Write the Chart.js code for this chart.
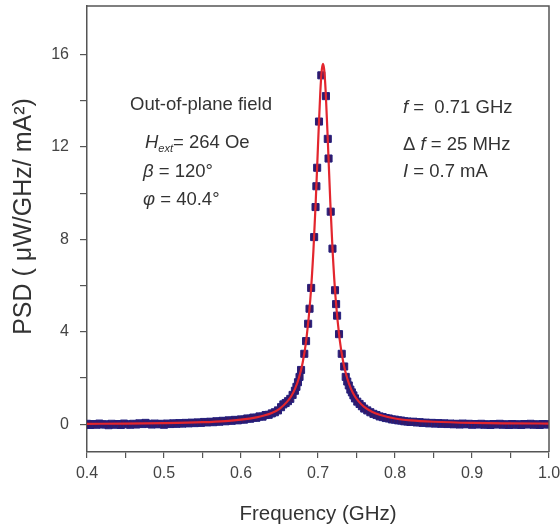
<!DOCTYPE html>
<html><head><meta charset="utf-8">
<script src="https://cdn.jsdelivr.net/npm/chart.js@4/dist/chart.umd.min.js"></script>
<style>html,body{margin:0;padding:0;background:#fff;overflow:hidden}#wrap{width:560px;height:531px;position:relative;overflow:hidden}</style>
</head><body><div id="wrap"><canvas id="c" width="560" height="531"></canvas></div>
<script>
// Lorentzian fit curve (red line)
const fitFreq = [0.40,0.45,0.50,0.55,0.58,0.60,0.62,0.63,0.64,0.65,0.66,0.665,0.67,0.675,0.68,0.685,0.69,0.694,0.697,0.700,0.703,0.705,0.7065,0.708,0.710,0.713,0.716,0.719,0.723,0.728,0.733,0.738,0.743,0.748,0.753,0.76,0.77,0.78,0.80,0.82,0.85,0.90,0.95,1.00];
const fitPsd  = [0.02,0.03,0.05,0.09,0.14,0.20,0.30,0.38,0.49,0.67,0.98,1.20,1.52,1.98,2.65,3.71,5.40,7.48,9.59,12.06,14.38,15.36,15.60,15.36,14.38,12.06,9.59,7.48,5.40,3.71,2.65,1.98,1.52,1.20,0.98,0.75,0.54,0.41,0.25,0.17,0.11,0.06,0.04,0.03];

// Measured points (squares)
const dataFreq = [
0.400,0.404,0.408,0.412,0.416,0.420,0.424,0.428,0.432,0.436,0.440,0.444,0.448,0.452,0.456,0.460,0.464,0.468,0.472,0.476,
0.480,0.484,0.488,0.492,0.496,0.500,0.504,0.508,0.512,0.516,0.520,0.524,0.528,0.532,0.536,0.540,0.544,0.548,0.552,0.556,
0.560,0.564,0.568,0.572,0.576,0.580,0.584,0.588,0.592,0.596,0.600,0.604,0.608,0.612,0.616,0.620,0.624,0.628,0.632,0.636,
0.640,0.644,0.648,0.652,0.655,0.658,0.661,0.664,0.667,0.670,0.672,0.674,0.676,0.678,0.6822,0.6845,0.6872,0.689,0.6911,0.695,
0.6968,0.6979,0.6989,0.7013,0.7043,0.7103,0.7127,0.7137,0.7165,0.7188,0.7221,0.7235,0.7248,0.7273,0.7308,0.734,
0.736,0.738,0.740,0.742,0.744,0.746,0.748,0.751,0.754,0.757,0.760,0.764,0.768,0.772,0.776,0.780,0.784,0.788,0.792,0.796,
0.800,0.804,0.808,0.812,0.816,0.820,0.824,0.828,0.832,0.836,0.840,0.844,0.848,0.852,0.856,0.860,0.864,0.868,0.872,0.876,
0.880,0.884,0.888,0.892,0.896,0.900,0.904,0.908,0.912,0.916,0.920,0.924,0.928,0.932,0.936,0.940,0.944,0.948,0.952,0.956,
0.960,0.964,0.968,0.972,0.976,0.980,0.984,0.988,0.992,0.996,1.000];
const dataPsd = [
0.02,-0.03,0.01,-0.02,0.03,-0.01,0.00,-0.04,0.02,-0.02,0.01,-0.03,0.03,0.00,-0.02,0.02,-0.01,0.04,0.01,0.06,
0.02,-0.01,0.03,0.00,0.02,-0.02,0.03,0.01,0.04,0.02,0.05,0.03,0.06,0.04,0.07,0.05,0.08,0.06,0.10,0.08,
0.11,0.09,0.13,0.11,0.15,0.13,0.17,0.15,0.19,0.17,0.21,0.20,0.25,0.24,0.29,0.28,0.34,0.33,0.40,0.41,
0.47,0.52,0.60,0.74,0.86,0.92,1.00,1.10,1.27,1.45,1.62,1.82,2.05,2.35,3.05,3.60,4.35,5.00,5.90,8.10,
9.40,10.30,11.10,13.10,15.10,14.20,12.35,11.50,9.20,7.60,5.80,5.20,4.70,3.90,3.05,2.50,
2.05,1.85,1.68,1.50,1.38,1.25,1.12,0.98,0.88,0.78,0.68,0.60,0.52,0.45,0.40,0.34,0.31,0.27,0.25,0.21,
0.20,0.17,0.16,0.13,0.12,0.10,0.11,0.08,0.09,0.06,0.07,0.04,0.06,0.03,0.05,0.02,0.04,0.01,0.03,0.00,
0.02,-0.01,0.03,0.00,0.02,-0.02,0.01,-0.01,0.02,-0.02,0.00,-0.03,0.01,-0.01,0.02,-0.02,0.00,-0.03,0.01,-0.02,
0.00,-0.03,0.01,-0.01,0.02,-0.02,0.00,-0.03,0.01,-0.01,0.00];

const xTickValues = [0.4,0.45,0.5,0.55,0.6,0.65,0.7,0.75,0.8,0.85,0.9,0.95,1.0];
const xTickLabels = ['0.4','','0.5','','0.6','','0.7','','0.8','','0.9','','1.0'];
const yTickValues = [0,2,4,6,8,10,12,14,16];
const yTickLabels = ['0','','4','','8','','12','','16'];

const xAxisTitle = 'Frequency (GHz)';
const yAxisTitle = '\u2003PSD ( \u03bcW/GHz/ mA\u00b2)';

// annotation texts (anchored in data coordinates)
const annotations = [
  {x:0.548, y:13.6, align:'center', runs:[{t:'Out-of-plane field'}]},
  {x:0.4753, y:11.94, runs:[{t:'H',i:true},{t:'ext',i:true,sub:true},{t:'= 264 Oe'}]},
  {x:0.4727, y:10.69, runs:[{t:'\u03b2',i:true},{t:' = 120\u00b0'}]},
  {x:0.4727, y:9.48, runs:[{t:'\u03c6',i:true},{t:' = 40.4\u00b0'}]},
  {x:0.8104, y:13.49, runs:[{t:'f',i:true},{t:' =  0.71 GHz'}]},
  {x:0.8104, y:11.85, runs:[{t:'\u0394',i:false},{t:' f',i:true},{t:' = 25 MHz'}]},
  {x:0.8104, y:10.69, runs:[{t:'I',i:true},{t:' = 0.7 mA'}]}
];

const FONT = "'Liberation Sans', Arial, sans-serif";

const framePlugin = {
  id:'frame',
  afterDraw(chart){
    const {ctx, chartArea:a} = chart;
    ctx.save();
    ctx.strokeStyle = '#555';
    ctx.lineWidth = 1.5;
    ctx.beginPath();
    ctx.moveTo(a.left, a.top); ctx.lineTo(a.right, a.top); ctx.lineTo(a.right, a.bottom);
    ctx.stroke();
    ctx.restore();
  }
};

const textPlugin = {
  id:'texts',
  afterDatasetsDraw(chart){
    const ctx = chart.ctx, xs = chart.scales.x, ys = chart.scales.y;
    ctx.save();
    ctx.fillStyle = '#333';
    ctx.textBaseline = 'alphabetic';
    ctx.textAlign = 'left';
    for (const a of annotations){
      const setFont = r => { ctx.font = (r.i?'italic ':'') + (r.sub?11:18.5) + 'px ' + FONT; };
      let w = 0;
      for (const r of a.runs){ setFont(r); w += ctx.measureText(r.t).width; }
      let px = xs.getPixelForValue(a.x);
      const py = ys.getPixelForValue(a.y);
      if (a.align === 'center') px -= w/2;
      for (const r of a.runs){
        setFont(r);
        ctx.fillText(r.t, px, py + (r.sub?4:0));
        px += ctx.measureText(r.t).width;
      }
    }
    ctx.restore();
  }
};

const fitPoints = fitFreq.map((f,i)=>({x:f, y:fitPsd[i]}));
const measPoints = dataFreq.map((f,i)=>({x:f, y:dataPsd[i]}));

new Chart(document.getElementById('c'), {
  type:'scatter',
  data:{datasets:[
    {label:'fit', data:fitPoints, showLine:true, borderColor:'#e3262e', borderWidth:2.2, pointRadius:0, cubicInterpolationMode:'monotone', order:0},
    {label:'data', data:measPoints, showLine:false, pointStyle:'rect', pointRadius:5, backgroundColor:'#361866', borderColor:'#24207e', borderWidth:1, order:1}
  ]},
  options:{
    responsive:false, animation:false, devicePixelRatio:1,
    layout:{padding:{top:4, right:11, left:0, bottom:0}},
    plugins:{legend:{display:false}, tooltip:{enabled:false}},
    scales:{
      x:{type:'linear', min:0.4, max:1.0,
        afterBuildTicks: s => { s.ticks = xTickValues.map(v=>({value:v})); },
        afterFit: s => { s.height = 79; s.paddingLeft = 0; s.paddingRight = 0; },
        ticks:{callback:(v,i)=>xTickLabels[i], color:'#444', font:{family:FONT,size:16}, padding:6, maxRotation:0, autoSkip:false},
        grid:{drawOnChartArea:false, tickLength:6, color:'#555', lineWidth:1.2},
        border:{color:'#555', width:1.5},
        title:{display:true, text:xAxisTitle, color:'#333', font:{family:FONT,size:20.5}, padding:{top:0,bottom:4}}
      },
      y:{type:'linear', min:-1.2, max:18.1,
        afterBuildTicks: s => { s.ticks = yTickValues.map(v=>({value:v})); },
        afterFit: s => { s.width = 87; s.paddingTop = 0; s.paddingBottom = 0; },
        ticks:{callback:(v,i)=>yTickLabels[i], color:'#444', font:{family:FONT,size:16}, padding:11, autoSkip:false},
        grid:{drawOnChartArea:false, tickLength:7, color:'#555', lineWidth:1.2},
        border:{color:'#555', width:1.5},
        title:{display:true, text:yAxisTitle, color:'#333', font:{family:FONT,size:25}, padding:{top:9,bottom:0}}
      }
    }
  },
  plugins:[framePlugin, textPlugin]
});
</script></body></html>
